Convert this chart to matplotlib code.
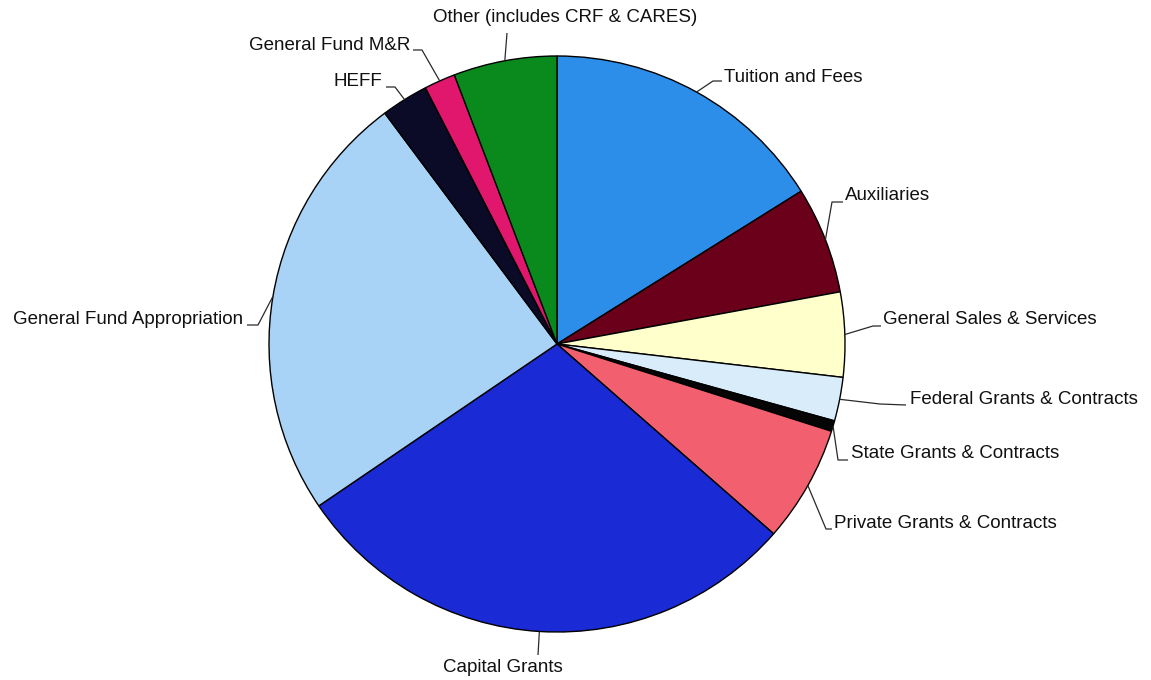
import matplotlib.pyplot as plt
import numpy as np

# Revenue sources, clockwise from 12 o'clock (percent of total)
sources = ['Tuition and Fees', 'Auxiliaries', 'General Sales & Services',
           'Federal Grants & Contracts', 'State Grants & Contracts',
           'Private Grants & Contracts', 'Capital Grants',
           'General Fund Appropriation', 'HEFF', 'General Fund M&R',
           'Other (includes CRF & CARES)']
shares = [16.1, 6.0, 4.75, 2.45, 0.6, 6.55, 29.05, 24.3, 2.65, 1.75, 5.8]
colors = ['#2d8eea', '#6a0019', '#ffffcc', '#d8edf9', '#050505', '#f2606f',
          '#1a2ad4', '#a9d3f6', '#0b0b28', '#e0176c', '#0a8a1c']

# label layout in pixel space (y measured from top): knee of leader,
# end of leader, text anchor and alignment
label_layout = {
    'Tuition and Fees':             ((713, 81), (722, 81), (724, 77), 'left'),
    'Auxiliaries':                  ((832, 202), (843, 202), (845, 196), 'left'),
    'General Sales & Services':     ((873, 326), (881, 326), (883, 320), 'left'),
    'Federal Grants & Contracts':   ((880, 404), (906, 405), (910, 399), 'left'),
    'State Grants & Contracts':     ((838, 460), (848, 460), (851, 454), 'left'),
    'Private Grants & Contracts':   ((826, 529), (832, 529), (834, 523), 'left'),
    'Capital Grants':               ((538, 655), (538, 655), (503, 668), 'center'),
    'General Fund Appropriation':   ((258, 325), (247, 325), (243, 320), 'right'),
    'HEFF':                         ((395, 87), (386, 87), (382, 82), 'right'),
    'General Fund M&R':             ((422, 50), (413, 50), (410, 45), 'right'),
    'Other (includes CRF & CARES)': ((507, 33), (507, 33), (565, 18), 'center'),
}

W, H = 1151, 680
cx, cy, r = 557, 344, 288

plt.rcParams['font.family'] = ['Liberation Sans', 'DejaVu Sans']

fig = plt.figure(figsize=(W / 100, H / 100), dpi=100)
ax = fig.add_axes([0, 0, 1, 1])

wedges, _ = ax.pie(shares, colors=colors, startangle=90, counterclock=False,
                   center=(cx, H - cy), radius=r,
                   wedgeprops=dict(edgecolor='black', linewidth=1.0))

for w, name in zip(wedges, sources):
    mid = np.deg2rad((w.theta1 + w.theta2) / 2)
    ex = cx + r * np.cos(mid)
    ey = (H - cy) + r * np.sin(mid)
    knee, end, txt, ha = label_layout[name]
    xs = [ex, knee[0], end[0]]
    ys = [ey, H - knee[1], H - end[1]]
    ax.plot(xs, ys, color='#2a2a2a', lw=0.9, solid_capstyle='butt')
    ax.text(txt[0], H - txt[1], name, ha=ha, va='center',
            fontsize=13.5, color='#111111')

ax.set_xlim(0, W)
ax.set_ylim(0, H)
ax.set_aspect('equal')
ax.axis('off')

fig.savefig('out.png', dpi=100, facecolor='white')
